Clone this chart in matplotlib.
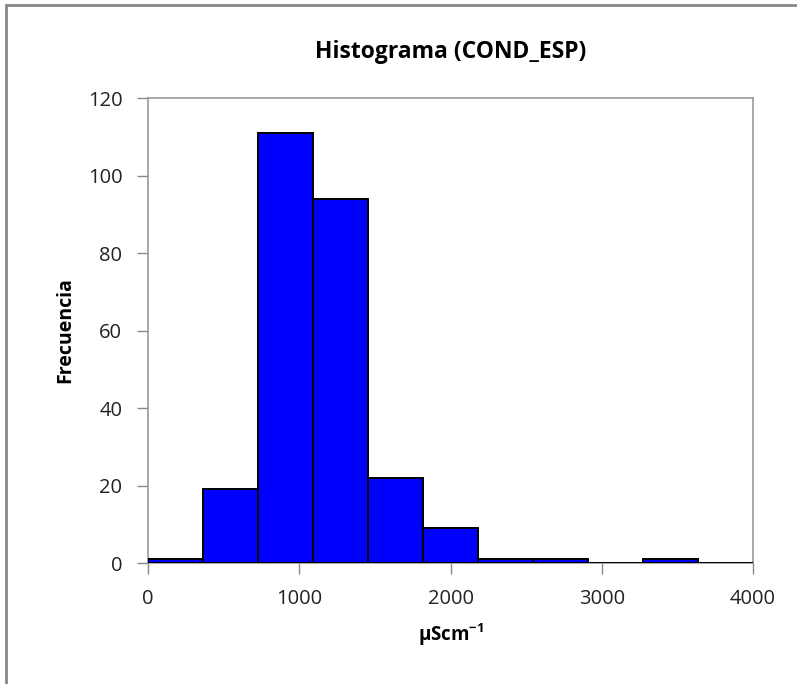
import numpy as np
import matplotlib.pyplot as plt
from matplotlib.patches import Rectangle

plt.rcParams['font.family'] = ['Open Sans', 'DejaVu Sans']
plt.rcParams['mathtext.fontset'] = 'custom'
plt.rcParams['mathtext.bf'] = 'Open Sans:bold'
plt.rcParams['mathtext.rm'] = 'Open Sans'

# class limits (uS/cm) and counts per class
bin_edges = [0, 363.6, 727.3, 1090.9, 1454.5, 1818.2, 2181.8,
             2545.5, 2909.1, 3272.7, 3636.4, 4000]
counts = [1, 19, 111, 94, 22, 9, 1, 1, 0, 1, 0]
y_ticks = [0, 20, 40, 60, 80, 100, 120]
x_ticks = [0, 1000, 2000, 3000, 4000]

fig = plt.figure(figsize=(7.97, 6.84), dpi=100)
# chart frame
fig.patches.append(Rectangle((0.008, -0.05), 1.1, 1.043, transform=fig.transFigure,
                             fill=False, edgecolor='#888888', linewidth=2))

ax = fig.add_axes([0.1857, 0.1769, 0.7591, 0.6798])
edges = np.array(bin_edges)
ax.bar(edges[:-1], counts, width=np.diff(edges), align='edge',
       color='#0000FF', edgecolor='black', linewidth=1.4, zorder=3)

ax.set_xlim(0, 4000)
ax.set_ylim(0, 120)
ax.set_xticks(x_ticks)
ax.set_yticks(y_ticks)
for s in ax.spines.values():
    s.set_color('#999999')
    s.set_linewidth(1.2)
ax.tick_params(direction='out', length=8, width=1, color='#888888',
               labelsize=14.5, labelcolor='#222222')
ax.tick_params(axis='x', pad=11)
ax.tick_params(axis='y', pad=10.5)

ax.set_title('Histograma (COND_ESP)', fontsize=16.5, fontweight='bold', pad=29)
ax.set_ylabel('Frecuencia', fontsize=14, fontweight='bold', labelpad=9)
ax.set_xlabel(r'µScm$^{\mathbf{-1}}$', fontsize=13.5, fontweight='bold', labelpad=9)

fig.savefig('out.png', dpi=100)
